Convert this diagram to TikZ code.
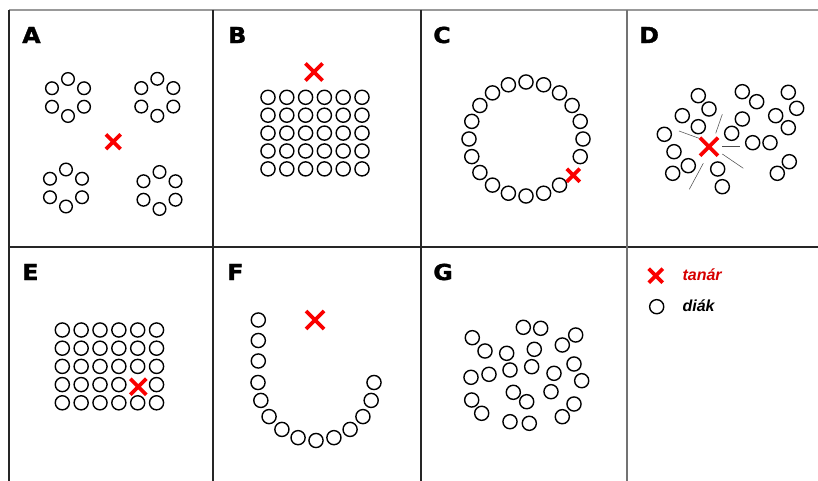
\documentclass[tikz,border=0pt]{standalone}
\usepackage{fontspec}
\setmainfont{Liberation Sans}
\newfontfamily\lblfont{DejaVu Sans}[FakeStretch=1.08,FakeBold=1.5]
\newfontfamily\legfont{Liberation Sans}
\definecolor{xred}{RGB}{250,0,0}
\definecolor{tred}{RGB}{215,0,0}
\newcommand\teacher[3]{%
  \node[tmark=#3] (#1) at (#2) {};
  \draw[crossline] (#1.north west) -- (#1.south east) (#1.north east) -- (#1.south west);}
\begin{document}
\begin{tikzpicture}[x=0.75pt,y=-0.75pt,
  stud/.style={circle,draw=black,line width=1.05pt,inner sep=0pt,minimum size=10.6pt},
  studA/.style={stud,minimum size=9.5pt},
  tmark/.style={inner sep=0pt,minimum size=#1},
  crossline/.style={draw=xred,line width=2.8pt},
  plabel/.style={anchor=west,inner sep=0pt,font=\lblfont\bfseries\fontsize{16.5}{18}\selectfont},
  legtext/.style={anchor=base west,inner sep=0pt,font=\legfont\bfseries\itshape\fontsize{12}{14}\selectfont},
  frameout/.style={draw=black!40,line width=0.8pt},
  framein/.style={draw=black!85,line width=0.8pt},
  ray/.style={draw=black!70,line width=0.4pt}]
\useasboundingbox (0,0) rectangle (818,481);
\fill[white] (0,0) rectangle (818,481);

% frame
\draw[frameout] (9,10) -- (818,10);
\draw[framein] (9,10) -- (9,481);
\draw[framein] (9,247) -- (818,247);
\draw[framein] (213,10) -- (213,481);
\draw[framein] (421,10) -- (421,481);
\draw[draw=black!55,line width=0.8pt] (627,10) -- (627,481);

% labels
\node[plabel] (lA) at (22,35) {A};
\node[plabel] (lB) at (228,35) {B};
\node[plabel] (lC) at (433,35) {C};
\node[plabel] (lD) at (639,35) {D};
\node[plabel] (lE) at (22,272) {E};
\node[plabel] (lF) at (227,272) {F};
\node[plabel] (lG) at (433,272) {G};

% ---- A: four groups of six
\foreach \g/\cx/\cy in {1/68/97.5, 2/157.3/97.3, 3/66/188, 4/159.5/190.5}{
  \foreach \k in {0,...,5}{
    \node[studA] (a\g-\k) at ({\cx+18.5*cos(90+60*\k)},{\cy-18.5*sin(90+60*\k)}) {};
  }
}
\teacher{xA}{113.3,141.7}{10.6pt}

% ---- B: rows facing teacher
\foreach \c in {0,...,5}{
  \foreach \r in {0,...,4}{
    \node[stud] (b\c-\r) at ({268+18.8*\c},{97.3+17.9*\r}) {};
  }
}
\teacher{xB}{314,72}{12.4pt}

% ---- C: circle
\foreach \k in {0,...,19}{
  \ifnum\k=7\relax\else
    \node[stud] (c\k) at ({526+57*cos(90-18*\k)},{139-57*sin(90-18*\k)}) {};
  \fi
}
\teacher{xC}{573.3,175.3}{9.4pt}

% ---- D: groups, teacher in the middle
\foreach \i/\x/\y in {1/698.3/95.7, 2/709/109, 3/682.3/115.7, 4/698.3/126.7, 5/664.3/134.3,
  6/674/151.7, 7/688.3/165.7, 8/672.7/173.3, 9/717.7/169, 10/722.3/186.7, 11/742.3/91.7,
  12/756.7/101.7, 13/742.3/119, 14/731.7/133.3, 15/752.7/142.7, 16/770/142.7, 17/775.7/115.7,
  18/788.3/92.3, 19/796.7/108.3, 20/788.3/127.7, 21/789.3/161.7, 22/777.3/173.3}{
  \node[stud] (d\i) at (\x,\y) {};
}
\teacher{xD}{709,146.7}{13.1pt}
\coordinate (r1a) at (679,131);     \coordinate (r1b) at (699,138.3);
\coordinate (r2a) at (722.3,114.3); \coordinate (r2b) at (715.7,133.3);
\coordinate (r3a) at (722.3,146);   \coordinate (r3b) at (740,146);
\coordinate (r4a) at (722.3,154);   \coordinate (r4b) at (743.3,168.3);
\coordinate (r5a) at (703.3,163.3); \coordinate (r5b) at (689.3,189.3);
\foreach \j in {1,...,5}{ \draw[ray] (r\j a) -- (r\j b); }

% ---- E: rows, teacher among students
\foreach \c in {0,...,5}{
  \foreach \r in {0,...,4}{
    \ifnum\c\r=43\relax\else
      \node[stud] (e\c-\r) at ({62.3+18.85*\c},{330+18.2*\r}) {};
    \fi
  }
}
\teacher{xE}{138.3,386.7}{11.6pt}

% ---- F: horseshoe
\foreach \i/\y in {1/320, 2/340.5, 3/361}{
  \node[stud] (fl\i) at (258.3,\y) {};
}
\foreach \k in {0,...,10}{
  \node[stud] (f\k) at ({316+58*cos(180+18*\k)},{382.5-58*sin(180+18*\k)}) {};
}
\teacher{xF}{315,320}{13.1pt}

% ---- G: scattered
\foreach \i/\x/\y in {1/523.3/327.3, 2/540.7/328.3, 3/472.3/337.7, 4/485/351, 5/506.7/353.3,
  6/534.3/349.3, 7/562.3/345, 8/575.7/335, 9/471/377.3, 10/489/374.3, 11/510/370,
  12/531.7/366.7, 13/554/373.3, 14/574/364, 15/581.7/380.7, 16/513.3/392.3, 17/526.7/401.7,
  18/551/391.7, 19/471.7/400, 20/481.7/413.3, 21/510/421.7, 22/529.3/423.3, 23/562.3/416.7,
  24/574/404}{
  \node[stud] (g\i) at (\x,\y) {};
}

% ---- legend
\teacher{xL}{655.7,275.7}{10.1pt}
\node[legtext,text=tred] (tLeg) at (682.3,281) {tanár};
\node[stud] (sL) at (656.7,306.7) {};
\node[legtext] (dLeg) at (682.3,311) {diák};
\end{tikzpicture}
\end{document}
